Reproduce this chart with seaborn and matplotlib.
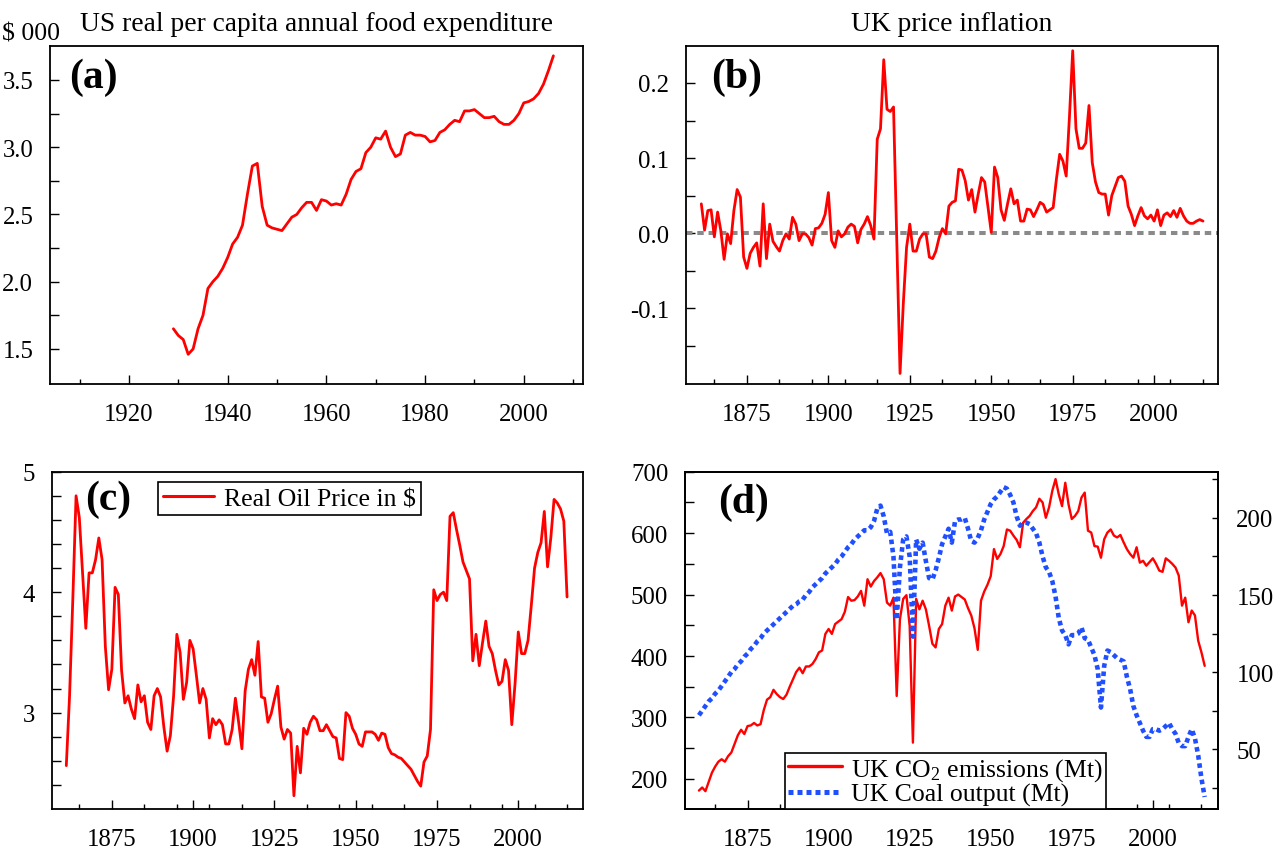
import matplotlib
matplotlib.use("Agg")
import matplotlib.pyplot as plt
from matplotlib.ticker import FixedLocator, FixedFormatter
from matplotlib.lines import Line2D
import seaborn as sns

# ---------------- data ----------------
FOOD_YEARS = list(range(1929, 2007))
FOOD_EXP = [
    1.65, 1.60, 1.57, 1.46, 1.50, 1.65, 1.75, 1.95, 2.00, 2.04,
    2.10, 2.18, 2.28, 2.33, 2.42, 2.65, 2.86, 2.88, 2.56, 2.42,
    2.40, 2.39, 2.38, 2.43, 2.48, 2.50, 2.55, 2.59, 2.59, 2.53,
    2.61, 2.60, 2.57, 2.58, 2.57, 2.65, 2.76, 2.82, 2.84, 2.96,
    3.00, 3.07, 3.06, 3.12, 3.00, 2.93, 2.95, 3.09, 3.11, 3.09,
    3.09, 3.08, 3.04, 3.05, 3.11, 3.13, 3.17, 3.20, 3.19, 3.27,
    3.27, 3.28, 3.25, 3.22, 3.22, 3.23, 3.19, 3.17, 3.17, 3.20,
    3.25, 3.33, 3.34, 3.36, 3.40, 3.47, 3.57, 3.68,
]

INFL_YEARS = list(range(1861, 2016))
INFLATION = [
    0.039, 0.004, 0.030, 0.031, -0.005, 0.028, 0.003, -0.035, -0.001, -0.014,
    0.030, 0.058, 0.048, -0.032, -0.047, -0.027, -0.019, -0.013, -0.044, 0.039,
    -0.034, 0.012, -0.011, -0.018, -0.024, -0.010, -0.001, -0.008, 0.021, 0.012,
    -0.010, -0.001, -0.001, -0.006, -0.016, 0.006, 0.007, 0.013, 0.025, 0.054,
    -0.010, -0.019, 0.003, -0.005, -0.001, 0.008, 0.012, 0.009, -0.013, 0.005,
    0.012, 0.022, 0.010, -0.008, 0.125, 0.139, 0.231, 0.165, 0.162, 0.168,
    -0.010, -0.187, -0.094, -0.019, 0.012, -0.024, -0.024, -0.008, -0.001, -0.001,
    -0.032, -0.034, -0.024, -0.006, 0.006, -0.001, 0.036, 0.041, 0.043, 0.085,
    0.084, 0.070, 0.044, 0.058, 0.028, 0.052, 0.074, 0.068, 0.034, 0.001,
    0.088, 0.074, 0.031, 0.017, 0.039, 0.059, 0.039, 0.044, 0.016, 0.016,
    0.032, 0.031, 0.022, 0.031, 0.041, 0.038, 0.028, 0.031, 0.034, 0.072,
    0.105, 0.096, 0.076, 0.155, 0.243, 0.139, 0.113, 0.113, 0.120, 0.170,
    0.094, 0.068, 0.054, 0.052, 0.052, 0.024, 0.050, 0.062, 0.074, 0.076,
    0.069, 0.036, 0.025, 0.010, 0.023, 0.034, 0.023, 0.019, 0.024, 0.016,
    0.031, 0.010, 0.024, 0.027, 0.022, 0.030, 0.021, 0.033, 0.023, 0.016,
    0.013, 0.013, 0.016, 0.018, 0.016,
]

OIL_YEARS = list(range(1861, 2016))
OIL_PRICE = [
    2.56, 3.14, 3.94, 4.80, 4.62, 4.16, 3.70, 4.16, 4.16, 4.27,
    4.45, 4.27, 3.55, 3.19, 3.36, 4.04, 3.98, 3.35, 3.08, 3.14,
    3.03, 2.95, 3.23, 3.09, 3.14, 2.92, 2.86, 3.14, 3.20, 3.13,
    2.88, 2.68, 2.81, 3.14, 3.65, 3.50, 3.11, 3.25, 3.60, 3.53,
    3.31, 3.08, 3.20, 3.11, 2.79, 2.95, 2.90, 2.94, 2.90, 2.74,
    2.74, 2.86, 3.12, 2.92, 2.70, 3.18, 3.36, 3.44, 3.31, 3.59,
    3.13, 3.12, 2.92, 2.99, 3.11, 3.22, 2.88, 2.78, 2.86, 2.83,
    2.31, 2.72, 2.50, 2.87, 2.82, 2.92, 2.97, 2.94, 2.85, 2.85,
    2.90, 2.85, 2.80, 2.79, 2.62, 2.61, 3.00, 2.97, 2.87, 2.82,
    2.74, 2.72, 2.84, 2.84, 2.84, 2.82, 2.77, 2.83, 2.82, 2.71,
    2.66, 2.65, 2.63, 2.62, 2.59, 2.56, 2.53, 2.48, 2.43, 2.39,
    2.59, 2.64, 2.86, 4.02, 3.93, 3.98, 4.00, 3.93, 4.63, 4.66,
    4.52, 4.39, 4.25, 4.18, 4.11, 3.43, 3.65, 3.39, 3.58, 3.76,
    3.55, 3.49, 3.35, 3.23, 3.26, 3.44, 3.35, 2.90, 3.24, 3.67,
    3.49, 3.49, 3.60, 3.89, 4.20, 4.33, 4.41, 4.67, 4.21, 4.45,
    4.77, 4.74, 4.69, 4.59, 3.96,
]

UK_YEARS = list(range(1860, 2017))
UK_CO2 = [
    181, 186, 180, 195, 210, 220, 228, 232, 228, 237,
    243, 257, 271, 280, 273, 286, 287, 291, 287, 289,
    312, 329, 333, 345, 338, 333, 330, 337, 350, 362,
    374, 381, 372, 383, 383, 387, 395, 406, 409, 436,
    444, 436, 452, 456, 460, 472, 496, 490, 491, 497,
    506, 482, 525, 513, 522, 528, 535, 525, 487, 482,
    495, 335, 460, 493, 499, 449, 259, 493, 476, 490,
    476, 449, 420, 414, 444, 452, 482, 495, 474, 497,
    500, 496, 492, 478, 466, 445, 410, 490, 505, 516,
    530, 574, 558, 566, 579, 606, 604, 596, 589, 577,
    617, 623, 628, 636, 642, 656, 650, 625, 642, 669,
    688, 663, 644, 682, 647, 623, 628, 636, 658, 666,
    604, 601, 579, 578, 560, 590, 601, 606, 596, 593,
    597, 585, 574, 566, 560, 577, 552, 555, 547, 553,
    559, 550, 539, 537, 559, 555, 550, 544, 531, 482,
    495, 455, 474, 466, 425, 406, 384,
]
UK_COAL = [
    72, 75, 78, 81, 83, 86, 88, 91, 94, 97,
    100, 102, 105, 107, 110, 112, 115, 117, 120, 122,
    125, 127, 129, 131, 133, 135, 137, 139, 141, 143,
    144, 146, 147, 150, 152, 155, 157, 159, 161, 164,
    166, 168, 170, 173, 175, 178, 181, 183, 186, 188,
    190, 192, 192, 194, 198, 206, 208, 201, 190, 191,
    175, 134, 168, 186, 188, 175, 123, 186, 180, 184,
    172, 161, 160, 166, 174, 183, 188, 193, 184, 198,
    199, 199, 200, 193, 185, 184, 187, 192, 199, 204,
    209, 212, 214, 217, 220, 219, 215, 210, 201, 195,
    197, 197, 196, 193, 190, 184, 175, 168, 165, 159,
    149, 135, 127, 124, 118, 124, 124, 125, 129, 122,
    121, 116, 111, 102, 77, 104, 114, 113, 111, 109,
    108, 107, 97, 89, 78, 72, 67, 62, 58, 58,
    63, 63, 62, 63, 65, 67, 63, 60, 54, 52,
    52, 58, 63, 57, 46, 31, 19,
]

TITLE_A = "US real per capita annual food expenditure"
TITLE_B = "UK price inflation"
UNIT_A = "$ 000"
LEG_C = "Real Oil Price in $"
LEG_D1 = "UK CO$_2$ emissions (Mt)"
LEG_D2 = "UK Coal output (Mt)"

# ---------------- style ----------------
sns.set_theme(style="white")
plt.rcParams["font.family"] = ["Liberation Serif", "DejaVu Serif"]
plt.rcParams["mathtext.fontset"] = "custom"
plt.rcParams["mathtext.rm"] = "Liberation Serif"
plt.rcParams["mathtext.it"] = "Liberation Serif:italic"
plt.rcParams["mathtext.bf"] = "Liberation Serif:bold"
plt.rcParams["axes.unicode_minus"] = False
plt.rcParams["text.color"] = "black"
plt.rcParams["axes.titlecolor"] = "black"
plt.rcParams["xtick.color"] = "black"
plt.rcParams["ytick.color"] = "black"
plt.rcParams["legend.labelcolor"] = "black"

RED = "#ff0000"
BLUE = "#1f4fff"
GREY = "#8a8a8a"
TICK_FS = 17.8
LEG_FS = 18.5

W, H = 1279, 854
fig = plt.figure(figsize=(W / 100, H / 100), dpi=100)


def rect(l, t, r, b):
    return [l / W, 1 - b / H, (r - l) / W, (b - t) / H]


axA = fig.add_axes(rect(50, 46.7, 583, 384.5))
axB = fig.add_axes(rect(686, 46.7, 1218, 384.5))
axC = fig.add_axes(rect(52, 472.7, 583, 810))
axD = fig.add_axes(rect(685, 472.7, 1218.3, 810))


def style(ax, xmaj, xmin, xlab, ymaj, ymin, ylab):
    ax.set_facecolor("white")
    ax.grid(False)
    ax.xaxis.set_major_locator(FixedLocator(xmaj))
    ax.xaxis.set_minor_locator(FixedLocator(xmin))
    ax.xaxis.set_major_formatter(FixedFormatter(xlab))
    ax.yaxis.set_major_locator(FixedLocator(ymaj))
    ax.yaxis.set_minor_locator(FixedLocator(ymin))
    ax.yaxis.set_major_formatter(FixedFormatter(ylab))
    ax.tick_params(axis="both", which="both", direction="in", top=False,
                   right=False, bottom=True, left=True, width=1.0,
                   color="black", labelcolor="black")
    ax.tick_params(axis="x", which="major", length=6.8, pad=14.0,
                   labelsize=TICK_FS)
    ax.tick_params(axis="x", which="minor", length=3.6)
    ax.tick_params(axis="y", which="both", length=6.2)
    ax.tick_params(axis="y", which="major", pad=12.0, labelsize=TICK_FS)
    for s in ax.spines.values():
        s.set_visible(True)
        s.set_color("black")
        s.set_linewidth(1.3)
    ax.set_xlabel("")
    ax.set_ylabel("")


def panel_label(ax, txt, x, y):
    ax.text(x, y, txt, transform=ax.transAxes, fontsize=30, color="black",
            fontweight="bold", ha="left", va="baseline", zorder=10)


TS_MAJ = [1875, 1900, 1925, 1950, 1975, 2000]
TS_LAB = [str(v) for v in TS_MAJ]
TS_MIN = [1865, 1885, 1895, 1905, 1915, 1935, 1945, 1955, 1965, 1985,
          1995, 2005, 2015]

# ---- (a) ----
sns.lineplot(x=FOOD_YEARS, y=FOOD_EXP, ax=axA, color=RED, linewidth=2.0)
axA.set_xlim(1904, 2012)
axA.set_ylim(1.243, 3.755)
style(axA, [1920, 1940, 1960, 1980, 2000],
      [1910, 1930, 1950, 1970, 1990, 2010],
      ["1920", "1940", "1960", "1980", "2000"],
      [1.5, 2.0, 2.5, 3.0, 3.5], [1.75, 2.25, 2.75, 3.25],
      ["1.5", "2.0", "2.5", "3.0", "3.5"])
axA.set_title(TITLE_A, fontsize=19.8, pad=11, color="black")
panel_label(axA, "(a)", 0.036, 0.878)
fig.text(2 / W, 1 - 40 / H, UNIT_A, fontsize=18.5, ha="left",
         va="baseline", color="black")

# ---- (b) ----
axB.axhline(0.0, color=GREY, linewidth=2.9, linestyle=(0, (1.6, 1.2)),
            zorder=1)
sns.lineplot(x=INFL_YEARS, y=INFLATION, ax=axB, color=RED, linewidth=2.0,
             zorder=3)
axB.set_xlim(1856.3, 2019.6)
axB.set_ylim(-0.2004, 0.2497)
style(axB, TS_MAJ, TS_MIN, TS_LAB,
      [-0.1, 0.0, 0.1, 0.2], [-0.15, -0.05, 0.05, 0.15],
      ["-0.1", "0.0", "0.1", "0.2"])
axB.set_title(TITLE_B, fontsize=19.8, pad=11, color="black")
panel_label(axB, "(b)", 0.048, 0.879)

# ---- (c) ----
sns.lineplot(x=OIL_YEARS, y=OIL_PRICE, ax=axC, color=RED, linewidth=2.0)
axC.set_xlim(1856.6, 2019.9)
axC.set_ylim(2.2, 5.0)
style(axC, TS_MAJ, TS_MIN, TS_LAB,
      [3, 4, 5],
      [2.4, 2.6, 2.8, 3.2, 3.4, 3.6, 3.8, 4.2, 4.4, 4.6, 4.8],
      ["3", "4", "5"])
panel_label(axC, "(c)", 0.063, 0.889)
legC = axC.legend(handles=[Line2D([], [], color=RED, linewidth=2.2)],
                  labels=[LEG_C], loc="upper left",
                  bbox_to_anchor=(0.199, 0.969), borderaxespad=0.0,
                  fontsize=LEG_FS, frameon=True, fancybox=False,
                  shadow=False, framealpha=1.0, edgecolor="black",
                  handlelength=2.0, handletextpad=0.37, borderpad=0.2)
legC.get_frame().set_linewidth(1.2)

# ---- (d) ----
axD2 = axD.twinx()
sns.lineplot(x=UK_YEARS, y=UK_CO2, ax=axD, color=RED, linewidth=1.7)
sns.lineplot(x=UK_YEARS, y=UK_COAL, ax=axD2, color=BLUE, linewidth=3.3,
             linestyle=(0, (1.0, 0.8)))
axD.set_xlim(1855.7, 2020.2)
axD.set_ylim(151, 700)
axD2.set_ylim(11.2, 230)
style(axD, TS_MAJ, TS_MIN, TS_LAB,
      [200, 300, 400, 500, 600, 700], [250, 350, 450, 550, 650],
      ["200", "300", "400", "500", "600", "700"])
axD2.grid(False)
axD2.yaxis.set_major_locator(FixedLocator([50, 100, 150, 200]))
axD2.yaxis.set_minor_locator(FixedLocator([25, 75, 125, 175, 225]))
axD2.yaxis.set_major_formatter(FixedFormatter(["50", "100", "150", "200"]))
axD2.tick_params(axis="y", which="both", direction="in", right=True,
                 left=False, length=4.2, width=1.0, color="black")
axD2.tick_params(axis="y", which="major", pad=13.0, labelsize=TICK_FS,
                 labelcolor="black")
axD2.set_ylabel("")
for s in axD2.spines.values():
    s.set_color("black")
    s.set_linewidth(1.3)
panel_label(axD, "(d)", 0.062, 0.882)
legD = axD2.legend(
    handles=[Line2D([], [], color=RED, linewidth=2.4),
             Line2D([], [], color=BLUE, linewidth=3.6,
                    linestyle=(0, (1.0, 0.8)))],
    labels=[LEG_D1, LEG_D2], loc="lower left",
    bbox_to_anchor=(0.1876, 0.0), borderaxespad=0.0, fontsize=LEG_FS,
    frameon=True, fancybox=False, shadow=False, framealpha=1.0,
    edgecolor="black", handlelength=2.1, handletextpad=0.34,
    borderpad=0.12, labelspacing=0.0)
legD.get_frame().set_linewidth(1.2)

fig.savefig("out.png", dpi=100, facecolor="white")
